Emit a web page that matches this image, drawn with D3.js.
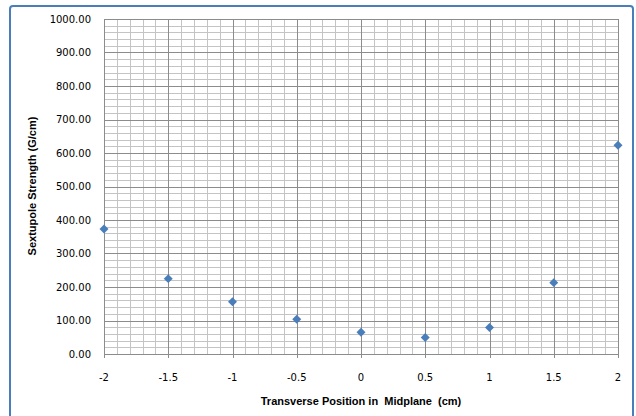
<!DOCTYPE html>
<html><head><meta charset="utf-8">
<script src="https://cdn.jsdelivr.net/npm/d3@7"></script>
<style>body{margin:0;background:#fff}svg{display:block}</style>
</head><body>
<svg id="c" width="636" height="416"></svg>
<script>
const positions = [-2, -1.5, -1, -0.5, 0, 0.5, 1, 1.5, 2];
const strengths = [373, 225, 156, 104, 65, 49, 79, 213, 623];
const xTicks = [-2, -1.5, -1, -0.5, 0, 0.5, 1, 1.5, 2];
const yTicks = [0, 100, 200, 300, 400, 500, 600, 700, 800, 900, 1000];
const xTitle = "Transverse Position in  Midplane  (cm)";
const yTitle = "Sextupole Strength (G/cm)";

const svg = d3.select("#c");
const x = d3.scaleLinear().domain([-2, 2]).range([104, 618]);
const y = d3.scaleLinear().domain([0, 1000]).range([354, 19]);

svg.append("rect").attr("x", 10).attr("y", 6).attr("width", 623).attr("height", 420)
  .attr("rx", 3).attr("fill", "#fff").attr("stroke", "#4a7ebb").attr("stroke-width", 2);

const g = svg.append("g");
// minor grid
const minorX = d3.range(-20, 21).map(d => d / 10);
const minorY = d3.range(0, 1001, 20);
g.selectAll(".mx").data(minorX).join("line")
  .attr("x1", d => Math.round(x(d)) + 0.5).attr("x2", d => Math.round(x(d)) + 0.5)
  .attr("y1", y(0)).attr("y2", y(1000)).attr("stroke", "#c4c4c4").attr("stroke-width", 1);
g.selectAll(".my").data(minorY).join("line")
  .attr("y1", d => Math.round(y(d)) + 0.5).attr("y2", d => Math.round(y(d)) + 0.5)
  .attr("x1", x(-2)).attr("x2", x(2)).attr("stroke", "#c4c4c4").attr("stroke-width", 1);
// major grid
g.selectAll(".Mx").data(xTicks).join("line")
  .attr("x1", d => Math.round(x(d)) + 0.5).attr("x2", d => Math.round(x(d)) + 0.5)
  .attr("y1", y(0) + 4).attr("y2", y(1000)).attr("stroke", "#8c8c8c").attr("stroke-width", 1);
g.selectAll(".My").data(yTicks).join("line")
  .attr("y1", d => Math.round(y(d)) + 0.5).attr("y2", d => Math.round(y(d)) + 0.5)
  .attr("x1", x(-2)).attr("x2", x(2)).attr("stroke", "#8c8c8c").attr("stroke-width", 1);

// tick labels
g.selectAll(".yl").data(yTicks).join("text")
  .attr("x", 91).attr("y", d => y(d)).attr("dy", "0.35em")
  .attr("text-anchor", "end").attr("font-family", "DejaVu Sans").attr("font-size", 10)
  .attr("fill", "#000").text(d => d.toFixed(2));
g.selectAll(".xl").data(xTicks).join("text")
  .attr("x", d => x(d)).attr("y", 377).attr("dy", "0.35em")
  .attr("text-anchor", "middle").attr("font-family", "DejaVu Sans").attr("font-size", 10)
  .attr("fill", "#000").text(d => String(d));

// titles
svg.append("text").attr("x", 361).attr("y", 401).attr("dy", "0.35em")
  .attr("text-anchor", "middle").attr("font-family", "Liberation Sans").attr("font-weight", "bold")
  .attr("font-size", 11).style("white-space", "pre").text(xTitle);
svg.append("text").attr("transform", "translate(32,186) rotate(-90)").attr("dy", "0.35em")
  .attr("text-anchor", "middle").attr("font-family", "Liberation Sans").attr("font-weight", "bold")
  .attr("font-size", 11).text(yTitle);

// points
const sym = d3.symbol().type(d3.symbolSquare).size(40);
svg.selectAll(".pt").data(positions).join("path")
  .attr("d", sym)
  .attr("transform", (d, i) => `translate(${x(d)},${y(strengths[i])}) rotate(45)`)
  .attr("fill", "#4a7ebb");
</script>
</body></html>
